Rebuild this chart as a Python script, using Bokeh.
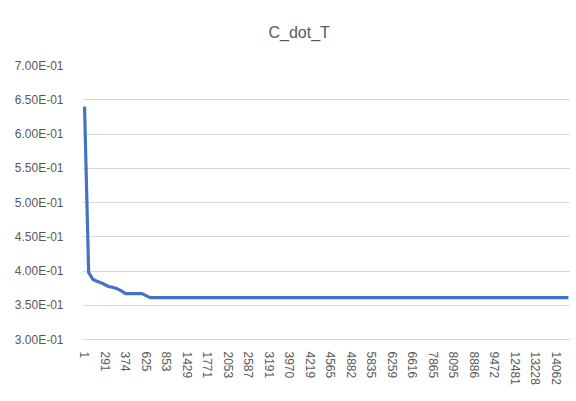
from bokeh.plotting import figure
from bokeh.models import FixedTicker, Title, ColumnDataSource
from bokeh.embed import file_html
from bokeh.resources import INLINE

# Iteration categories shown on the x axis (every fifth category is labelled)
tick_labels = ["1", "291", "374", "625", "853", "1429", "1771", "2053", "2587",
               "3191", "3970", "4219", "4565", "4882", "5835", "6259", "6616",
               "7865", "8095", "8886", "9472", "12481", "13228", "14062"]
label_step = 5

# C_dot_T value at each recorded category
c_dot_t = [
    0.640, 0.398, 0.388, 0.385, 0.383, 0.380, 0.377, 0.376, 0.374, 0.371,
    0.367, 0.367, 0.367, 0.367, 0.367, 0.364, 0.3612, 0.3612, 0.3612, 0.3612,
    0.3612, 0.3612, 0.3612, 0.3612, 0.3612, 0.3612, 0.3612, 0.3612, 0.3612, 0.3612,
    0.3612, 0.3612, 0.3612, 0.3612, 0.3612, 0.3612, 0.3612, 0.3612, 0.3612, 0.3612,
    0.3612, 0.3612, 0.3612, 0.3612, 0.3612, 0.3612, 0.3612, 0.3612, 0.3612, 0.3612,
    0.3612, 0.3612, 0.3612, 0.3612, 0.3612, 0.3612, 0.3612, 0.3612, 0.3612, 0.3612,
    0.3612, 0.3612, 0.3612, 0.3612, 0.3612, 0.3612, 0.3612, 0.3612, 0.3612, 0.3612,
    0.3612, 0.3612, 0.3612, 0.3612, 0.3612, 0.3612, 0.3612, 0.3612, 0.3612, 0.3612,
    0.3612, 0.3612, 0.3612, 0.3612, 0.3612, 0.3612, 0.3612, 0.3612, 0.3612, 0.3612,
    0.3612, 0.3612, 0.3612, 0.3612, 0.3612, 0.3612, 0.3612, 0.3612, 0.3612, 0.3612,
    0.3612, 0.3612, 0.3612, 0.3612, 0.3612, 0.3612, 0.3612, 0.3612, 0.3612, 0.3612,
    0.3612, 0.3612, 0.3612, 0.3612, 0.3612, 0.3612, 0.3612, 0.3612, 0.3612,
]

y_ticks = [0.30, 0.35, 0.40, 0.45, 0.50, 0.55, 0.60, 0.65, 0.70]
y_tick_labels = ["3.00E-01", "3.50E-01", "4.00E-01", "4.50E-01", "5.00E-01",
                 "5.50E-01", "6.00E-01", "6.50E-01", "7.00E-01"]

n = len(c_dot_t)
source = ColumnDataSource(data=dict(idx=list(range(n)), val=c_dot_t))

TEXT = "#595959"
GRID = "#d9d9d9"
FONT = "Liberation Sans"

p = figure(width=576, height=401, title=None, output_backend="svg",
           toolbar_location=None, x_range=(-0.5, n - 0.5), y_range=(0.3, 0.7),
           min_border_left=82, min_border_right=6, min_border_top=65,
           min_border_bottom=62)
p.outline_line_color = None
p.background_fill_color = "white"
p.border_fill_color = "white"

p.line("idx", "val", source=source, line_color="#4472C4", line_width=3.2,
       line_join="round")

# x axis: category index with every fifth label shown
x_tick_pos = [i * label_step for i in range(len(tick_labels))]
p.xaxis.ticker = FixedTicker(ticks=x_tick_pos)
p.xaxis.major_label_overrides = {t: s for t, s in zip(x_tick_pos, tick_labels)}
p.xaxis.major_label_orientation = "vertical"
p.xaxis.axis_line_color = GRID
p.xaxis.major_tick_line_color = None
p.xaxis.minor_tick_line_color = None
p.xaxis.major_label_text_font = FONT
p.xaxis.major_label_text_font_size = "12px"
p.xaxis.major_label_text_color = TEXT
p.xaxis.major_label_standoff = 6
p.xgrid.grid_line_color = None

# y axis: scientific labels, no axis line
p.yaxis.ticker = FixedTicker(ticks=y_ticks)
p.yaxis.major_label_overrides = {t: s for t, s in zip(y_ticks, y_tick_labels)}
p.yaxis.axis_line_color = None
p.yaxis.major_tick_line_color = None
p.yaxis.minor_tick_line_color = None
p.yaxis.major_label_text_font = FONT
p.yaxis.major_label_text_font_size = "12px"
p.yaxis.major_label_text_color = TEXT
p.yaxis.major_label_standoff = 13
p.ygrid.ticker = FixedTicker(ticks=y_ticks)
p.ygrid.grid_line_color = GRID
p.ygrid.grid_line_width = 1

# chart title, placed near the top edge above the plot area
p.add_layout(Title(text="C_dot_T", align="left", offset=186,
                   vertical_align="top", standoff=45,
                   text_font=FONT, text_font_size="16px",
                   text_font_style="normal", text_color=TEXT), "above")

open("out.html", "w").write(file_html(p, INLINE))
